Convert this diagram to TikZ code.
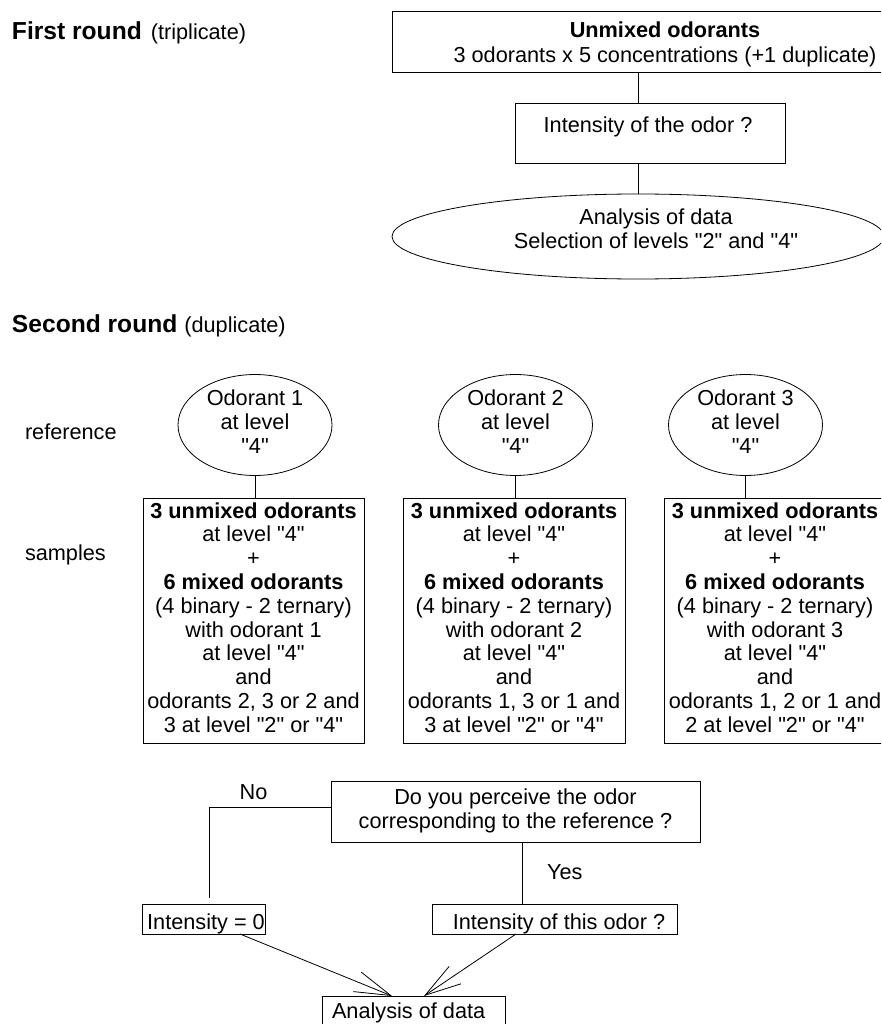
\documentclass[tikz,border=0pt]{standalone}
\usepackage{fontspec}
\setmainfont{Liberation Sans}[Ligatures=TeXOff]
\usetikzlibrary{shapes.geometric,arrows.meta}
\newcommand{\fsn}{\fontsize{21.7}{23.8}\selectfont}
\newcommand{\fst}{\fontsize{24.6}{28}\selectfont\bfseries}
\begin{document}
\begin{tikzpicture}[x=1pt,y=-1pt,
  every node/.style={inner sep=0pt, outer sep=0pt, font=\fsn, align=center},
  boxs/.style={draw, rectangle, line width=0.8pt},
  ell/.style={draw, ellipse, line width=0.8pt},
  conn/.style={line width=0.8pt},
  arr/.style={conn, -{Straight Barb[length=36pt,width=21pt]}}]
\useasboundingbox (0,0) rectangle (881,1024);
\fill[white] (0,0) rectangle (881,1024);
\clip (0,0) rectangle (881,1024);

% ---------- first round ----------
\node[anchor=base west] (r1) at (12,40) {{\fst First round}\hspace{9pt}(triplicate)};
\node[boxs, minimum width=492pt, minimum height=61pt] (top) at (638,41.5) {};
\node[anchor=base, font=\fsn\bfseries] (toptxta) at (665,38) {Unmixed odorants};
\node[anchor=base] (toptxtb) at (665,63) {3 odorants x 5 concentrations (+1 duplicate)};

\node[boxs, minimum width=270pt, minimum height=60pt] (int1) at (650,133) {};
\node[anchor=base] (int1txt) at (648,133) {Intensity of the odor ?};

\node[ell, minimum width=492pt, minimum height=85pt] (anaA) at (638,236.5) {};
\node[anchor=base] (anaAa) at (656,225) {Analysis of data};
\node[anchor=base] (anaAb) at (656,248) {Selection of levels "2" and "4"};

\draw[conn] (top.south) -- (top.south |- int1.north);
\draw[conn] (top.south |- int1.south) -- (anaA.north);

% ---------- second round ----------
\node[anchor=base west] (r2) at (12,332) {{\fst Second round}\hspace{7pt}(duplicate)};
\node[anchor=base west] (lref) at (25,439) {reference};
\node[anchor=base west] (lsam) at (25,560) {samples};

\node[ell, minimum width=154pt, minimum height=89pt] (e1) at (255,425) {\strut Odorant 1\\at level\\"4"\strut};
\node[ell, minimum width=154pt, minimum height=89pt] (e2) at (515.5,425) {\strut Odorant 2\\at level\\"4"\strut};
\node[ell, minimum width=154pt, minimum height=89pt] (e3) at (745.5,425) {\strut Odorant 3\\at level\\"4"\strut};

\node[boxs, minimum width=221pt, minimum height=245pt] (s1) at (253.5,620.5)
  {\strut\textbf{3 unmixed odorants}\\at level "4"\\+\\\textbf{6 mixed odorants}\\(4 binary - 2 ternary)\\with odorant 1\\at level "4"\\and\\odorants 2, 3 or 2 and\\3 at level "2" or "4"\strut};
\node[boxs, minimum width=222pt, minimum height=245pt] (s2) at (514,620.5)
  {\strut\textbf{3 unmixed odorants}\\at level "4"\\+\\\textbf{6 mixed odorants}\\(4 binary - 2 ternary)\\with odorant 2\\at level "4"\\and\\odorants 1, 3 or 1 and\\3 at level "2" or "4"\strut};
\node[boxs, minimum width=222pt, minimum height=245pt] (s3) at (775,620.5)
  {\strut\textbf{3 unmixed odorants}\\at level "4"\\+\\\textbf{6 mixed odorants}\\(4 binary - 2 ternary)\\with odorant 3\\at level "4"\\and\\odorants 1, 2 or 1 and\\2 at level "2" or "4"\strut};

\draw[conn] (e1.south) -- (e1.south |- s1.north);
\draw[conn] (e2.south) -- (e2.south |- s2.north);
\draw[conn] (e3.south) -- (e3.south |- s3.north);

% ---------- decision ----------
\node[boxs, minimum width=369pt, minimum height=61pt] (ask) at (515.5,811.5)
  {\strut Do you perceive the odor\\corresponding to the reference ?\strut};
\node[boxs, minimum width=122.4pt, minimum height=30pt] (izero) at (204,919) {};
\node[anchor=base] (izerotxt) at (206,929) {Intensity = 0};
\node[boxs, minimum width=245pt, minimum height=30pt] (int3) at (554.5,919) {};
\node[anchor=base] (int3txt) at (559,929) {Intensity of this odor ?};
\node[boxs, minimum width=183pt, minimum height=34pt] (anal) at (413.5,1013) {};
\node[anchor=base west] (analtxt) at (332,1018) {Analysis of data};

\node[anchor=base] (lno) at (253.5,799) {No};
\node[anchor=base west] (lyes) at (547,879) {Yes};

\draw[conn] ([yshift=4.5pt]ask.west) -| ([xshift=5pt,yshift=6pt]izero.north);
\coordinate (yx) at (522,0);
\draw[conn] (ask.south -| yx) -- (int3.north -| yx);
\draw[arr] ([xshift=36pt]izero.south) -- ([xshift=-21.5pt]anal.north);
\draw[arr] ([xshift=-38.5pt]int3.south) -- ([xshift=10.5pt]anal.north);
\end{tikzpicture}
\end{document}
